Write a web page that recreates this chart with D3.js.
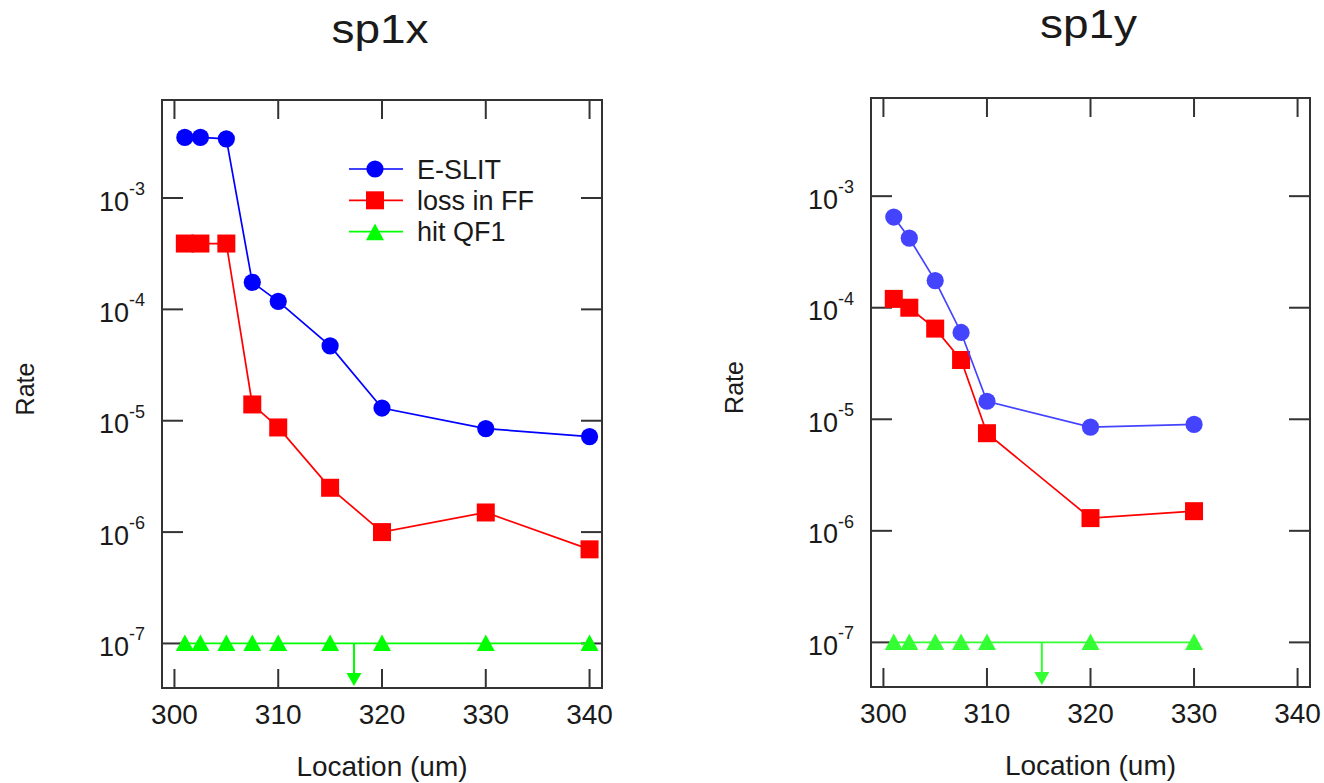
<!DOCTYPE html>
<html>
<head>
<meta charset="utf-8">
<script src="https://cdn.jsdelivr.net/npm/d3@7/dist/d3.min.js"></script>
<style>
  html, body { margin: 0; padding: 0; background: #fff; }
  svg { display: block; }
  text { font-family: "Liberation Sans", Arial, Helvetica, sans-serif; fill: #1a1a1a; }
</style>
</head>
<body>
<svg id="chart" width="1324" height="783"></svg>
<script>
// ---------- data ----------
const seriesNames = ["E-SLIT", "loss in FF", "hit QF1"];

const xLeft = [301, 302.5, 305, 307.5, 310, 315, 320, 330, 340];
const eslitLeft = [3.5e-3, 3.5e-3, 3.4e-3, 1.75e-4, 1.18e-4, 4.7e-5, 1.3e-5, 8.5e-6, 7.2e-6];
const lossLeft = [3.9e-4, 3.9e-4, 3.9e-4, 1.4e-5, 8.7e-6, 2.5e-6, 1.0e-6, 1.5e-6, 7.0e-7];
const hitLeft = [1e-7, 1e-7, 1e-7, 1e-7, 1e-7, 1e-7, 1e-7, 1e-7, 1e-7];
const arrowLeft = [317.3];

const xRight = [301, 302.5, 305, 307.5, 310, 320, 330];
const eslitRight = [6.5e-4, 4.2e-4, 1.75e-4, 6.0e-5, 1.45e-5, 8.5e-6, 9.0e-6];
const lossRight = [1.2e-4, 1.0e-4, 6.5e-5, 3.4e-5, 7.5e-6, 1.3e-6, 1.5e-6];
const hitRight = [1e-7, 1e-7, 1e-7, 1e-7, 1e-7, 1e-7, 1e-7];
const arrowRight = [315.3];

const xTicks = [300, 310, 320, 330, 340];
const yTicks = [1e-3, 1e-4, 1e-5, 1e-6, 1e-7];
const yTickExp = ["-3", "-4", "-5", "-6", "-7"];
const xDomain = [298.8, 341.2];
const yDomain = [Math.pow(10, -7.4), Math.pow(10, -2.12)];

const titles = ["sp1x", "sp1y"];
const xLabel = "Location (um)";
const yLabel = "Rate";

// ---------- drawing ----------
const svg = d3.select("#chart");

function trianglePath(s) {
  return `M0,${-s * 0.5}L${s * 0.5},${s * 0.42}L${-s * 0.5},${s * 0.42}Z`;
}

function drawPanel(opt) {
  const g = svg.append("g").attr("transform", `translate(${opt.left},${opt.top})`);
  const W = opt.width, H = opt.height;
  const x = d3.scaleLinear().domain(xDomain).range([0, W]);
  const y = d3.scaleLog().domain(yDomain).range([H, 0]);

  // frame
  g.append("rect").attr("x", 0).attr("y", 0).attr("width", W).attr("height", H)
    .attr("fill", "none").attr("stroke", "#333").attr("stroke-width", 2);

  // x ticks (bottom + top, inward)
  const xt = 19;
  g.selectAll(".xtb").data(xTicks).enter().append("line")
    .attr("x1", d => x(d)).attr("x2", d => x(d)).attr("y1", H).attr("y2", H - xt)
    .attr("stroke", "#333").attr("stroke-width", 2);
  g.selectAll(".xtt").data(xTicks).enter().append("line")
    .attr("x1", d => x(d)).attr("x2", d => x(d)).attr("y1", 0).attr("y2", xt)
    .attr("stroke", "#333").attr("stroke-width", 2);
  g.selectAll(".xtl").data(xTicks).enter().append("text")
    .attr("x", d => x(d)).attr("y", H + 36)
    .attr("text-anchor", "middle").attr("font-size", 28).text(d => d);

  // y ticks (left + right, inward)
  const yt = 21;
  g.selectAll(".ytl").data(yTicks).enter().append("line")
    .attr("x1", 0).attr("x2", yt).attr("y1", d => y(d)).attr("y2", d => y(d))
    .attr("stroke", "#333").attr("stroke-width", 2);
  g.selectAll(".ytr").data(yTicks).enter().append("line")
    .attr("x1", W).attr("x2", W - yt).attr("y1", d => y(d)).attr("y2", d => y(d))
    .attr("stroke", "#333").attr("stroke-width", 2);
  const lab = g.selectAll(".ylab").data(yTicks).enter().append("g")
    .attr("transform", d => `translate(0,${y(d)})`);
  lab.append("text").attr("x", -33).attr("y", 12.5).attr("text-anchor", "end")
    .attr("font-size", 27).text("10");
  lab.append("text").attr("x", -33).attr("y", -3).attr("text-anchor", "start")
    .attr("font-size", 18).text((d, i) => yTickExp[i]);

  // axis titles
  g.append("text").attr("x", W / 2).attr("y", H + 88).attr("text-anchor", "middle")
    .attr("font-size", 28).text(xLabel);
  g.append("text").attr("transform", `translate(${-128},${H / 2 - 5}) rotate(-90)`)
    .attr("text-anchor", "middle").attr("font-size", 25).text(yLabel);
  g.append("text").attr("transform", `translate(${W / 2 - 2},${opt.titleY}) scale(1.15,1)`)
    .attr("text-anchor", "middle").attr("font-size", 40).text(opt.title);

  const line = d3.line().x(d => x(d[0])).y(d => y(d[1]));
  const zip = (xs, ys) => xs.map((v, i) => [v, ys[i]]);

  // hit QF1 (green)
  const gd = zip(opt.xs, opt.hit);
  g.append("path").attr("d", line(gd)).attr("fill", "none")
    .attr("stroke", opt.green).attr("stroke-width", 1.7);
  // arrow
  opt.arrow.forEach(a => {
    const y0 = y(opt.hit[0]);
    const tip = H - 2;
    g.append("line").attr("x1", x(a)).attr("x2", x(a)).attr("y1", y0).attr("y2", tip - 10)
      .attr("stroke", opt.green).attr("stroke-width", 2);
    g.append("path").attr("d", `M${x(a) - 7.5},${tip - 13}L${x(a) + 7.5},${tip - 13}L${x(a)},${tip}Z`)
      .attr("fill", opt.green);
  });
  g.selectAll(".tri").data(gd).enter().append("path")
    .attr("transform", d => `translate(${x(d[0])},${y(d[1])})`)
    .attr("d", trianglePath(18)).attr("fill", opt.green);

  // loss in FF (red)
  const rd = zip(opt.xs, opt.loss);
  g.append("path").attr("d", line(rd)).attr("fill", "none")
    .attr("stroke", opt.red).attr("stroke-width", 1.7);
  g.selectAll(".sq").data(rd).enter().append("rect")
    .attr("x", d => x(d[0]) - 9).attr("y", d => y(d[1]) - 9)
    .attr("width", 18).attr("height", 18).attr("fill", opt.red);

  // E-SLIT (blue)
  const bd = zip(opt.xs, opt.eslit);
  g.append("path").attr("d", line(bd)).attr("fill", "none")
    .attr("stroke", opt.blue).attr("stroke-width", 1.7);
  g.selectAll(".ci").data(bd).enter().append("circle")
    .attr("cx", d => x(d[0])).attr("cy", d => y(d[1])).attr("r", 8.6).attr("fill", opt.blue);

  // legend
  if (opt.legend) {
    const lg = g.append("g").attr("transform", `translate(${349 - opt.left},${169 - opt.top})`);
    const cols = [opt.blue, opt.red, opt.green];
    seriesNames.forEach((name, i) => {
      const r = lg.append("g").attr("transform", `translate(0,${i * 31.3})`);
      r.append("line").attr("x1", 0).attr("x2", 54).attr("y1", 0).attr("y2", 0)
        .attr("stroke", cols[i]).attr("stroke-width", 1.7);
      if (i === 0) r.append("circle").attr("cx", 26).attr("cy", 0).attr("r", 8.6).attr("fill", cols[i]);
      if (i === 1) r.append("rect").attr("x", 26 - 9).attr("y", -9).attr("width", 18).attr("height", 18).attr("fill", cols[i]);
      if (i === 2) r.append("path").attr("transform", "translate(26,1)").attr("d", trianglePath(18)).attr("fill", cols[i]);
      r.append("text").attr("x", 68).attr("y", 9.5).attr("font-size", 27).text(name);
    });
  }
}

drawPanel({
  left: 162, top: 100, width: 440, height: 588, title: titles[0], titleY: -57,
  xs: xLeft, eslit: eslitLeft, loss: lossLeft, hit: hitLeft, arrow: arrowLeft,
  blue: "#0000ff", red: "#ff0000", green: "#00ff00", legend: true
});
drawPanel({
  left: 871, top: 98, width: 439, height: 589, title: titles[1], titleY: -60,
  xs: xRight, eslit: eslitRight, loss: lossRight, hit: hitRight, arrow: arrowRight,
  blue: "#4444ff", red: "#ff0000", green: "#33ff33", legend: false
});
</script>
</body>
</html>
